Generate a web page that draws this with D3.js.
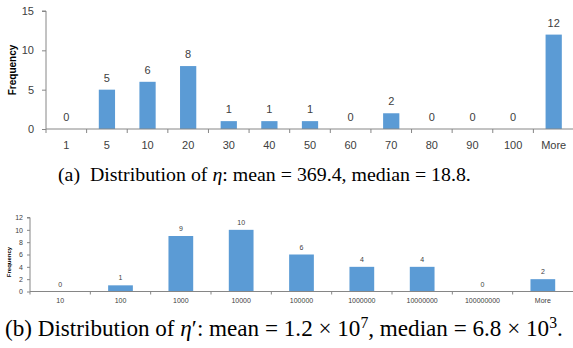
<!DOCTYPE html>
<html><head><meta charset="utf-8">
<script src="https://cdn.jsdelivr.net/npm/d3@7/dist/d3.min.js"></script>
<style>
body{margin:0;background:#fff;}
svg{display:block;}
.cap{font-family:"Liberation Serif","Times New Roman",serif;fill:#000;}
</style></head>
<body>
<svg id="chart" width="573" height="348"></svg>
<script>
// ---- Data ----
const catsA = ["1","5","10","20","30","40","50","60","70","80","90","100","More"];
const valsA = [0,5,6,8,1,1,1,0,2,0,0,0,12];
const ticksA = [0,5,10,15];
const catsB = ["10","100","1000","10000","100000","1000000","10000000","100000000","More"];
const valsB = [0,1,9,10,6,4,4,0,2];
const ticksB = [0,2,4,6,8,10,12];

const svg = d3.select("#chart");
const barColor = "#5b9bd5";
const axisColor = "#868686";
const textColor = "#404040";
const sans = "'Liberation Sans', Arial, sans-serif";

function panel(cfg){
  const g = svg.append("g");
  const x = d3.scaleBand().domain(cfg.cats).range([cfg.x0, cfg.x1]).paddingInner(cfg.pad).paddingOuter(cfg.pad/2);
  const xb = d3.scaleBand().domain(cfg.cats).range([cfg.x0, cfg.x1]);
  const y = d3.scaleLinear().domain([0, cfg.ymax]).range([cfg.y0, cfg.ytop]);

  g.selectAll("rect.bar").data(cfg.vals).join("rect")
    .attr("x",(d,i)=>x(cfg.cats[i]))
    .attr("width",x.bandwidth())
    .attr("y",d=>y(d))
    .attr("height",d=>y(0)-y(d))
    .attr("fill",barColor);

  const ya = d3.axisLeft(y).tickValues(cfg.ticks).tickSize(cfg.tick).tickPadding(cfg.ypad);
  const yg = g.append("g").attr("transform",`translate(${cfg.x0},0)`).call(ya);
  yg.select(".domain").attr("stroke",axisColor).attr("d",`M-${cfg.tick},${y(cfg.ymax)}H0V${y(0)}`);
  yg.selectAll(".tick line").attr("stroke",axisColor);
  yg.selectAll("text").attr("fill",textColor).style("font-family",sans).style("font-size",cfg.fs+"px");

  const xg = g.append("g").attr("transform",`translate(0,${cfg.y0})`);
  xg.append("line").attr("x1",cfg.x0).attr("x2",cfg.x1).attr("stroke",axisColor);
  const bounds = cfg.cats.map(c=>xb(c));
  xg.selectAll("line.tk").data(bounds).join("line").attr("class","tk")
    .attr("x1",d=>d).attr("x2",d=>d).attr("y1",0).attr("y2",cfg.tick).attr("stroke",axisColor);
  xg.selectAll("text.xl").data(cfg.cats).join("text").attr("class","xl")
    .attr("x",d=>xb(d)+xb.bandwidth()/2).attr("y",cfg.xly)
    .attr("text-anchor","middle").attr("fill",textColor)
    .style("font-family",sans).style("font-size",cfg.fs+"px").text(d=>d);

  g.selectAll("text.dl").data(cfg.vals).join("text").attr("class","dl")
    .attr("x",(d,i)=>xb(cfg.cats[i])+xb.bandwidth()/2)
    .attr("y",d=>y(d)-cfg.dly)
    .attr("text-anchor","middle").attr("fill",textColor)
    .style("font-family",sans).style("font-size",cfg.fs+"px").text(d=>d);

  g.append("text").attr("transform",`translate(${cfg.ylx},${cfg.yly}) rotate(-90)`)
    .attr("text-anchor","middle").attr("fill","#000").style("font-family",sans)
    .style("font-weight","bold").style("font-size",cfg.ylfs+"px").text("Frequency");
}

panel({cats:catsA, vals:valsA, ticks:ticksA, ymax:15, x0:46, x1:574, y0:129, ytop:11, pad:0.6,
  tick:4, ypad:8, fs:11, xly:20, dly:8, ylx:16, yly:70, ylfs:10});
panel({cats:catsB, vals:valsB, ticks:ticksB, ymax:12, x0:30, x1:573, y0:291.5, ytop:217.5, pad:0.59,
  tick:3, ypad:4, fs:7, xly:11.5, dly:5, ylx:11, yly:262, ylfs:6});

// captions: fit to the span they occupy in the original
function fit(t, x0, x1, base){
  const w = t.node().getComputedTextLength();
  const s = base * (x1 - x0) / w;
  t.style("font-size", s + "px");
  t.selectAll("tspan.sup").style("font-size", (s*0.68) + "px");
}
const capA = svg.append("text").attr("class","cap").attr("x",58).attr("y",180.5)
  .style("font-size","20px");
capA.append("tspan").text("(a)\u00a0 Distribution of ");
capA.append("tspan").style("font-style","italic").text("\u03b7");
capA.append("tspan").text(": mean = 369.4, median = 18.8.");
fit(capA, 58, 471, 20);

const capB = svg.append("text").attr("class","cap").attr("x",5).attr("y",336)
  .style("font-size","20px");
capB.append("tspan").text("(b) Distribution of ");
capB.append("tspan").style("font-style","italic").text("\u03b7");
capB.append("tspan").text("\u2032: mean = 1.2 \u00d7 10");
capB.append("tspan").attr("class","sup").attr("dy",-8).style("font-size","13.6px").text("7");
capB.append("tspan").attr("dy",8).text(", median = 6.8 \u00d7 10");
capB.append("tspan").attr("class","sup").attr("dy",-8).style("font-size","13.6px").text("3");
capB.append("tspan").attr("dy",8).text(".");
fit(capB, 5, 563, 20);
</script>
</body></html>
